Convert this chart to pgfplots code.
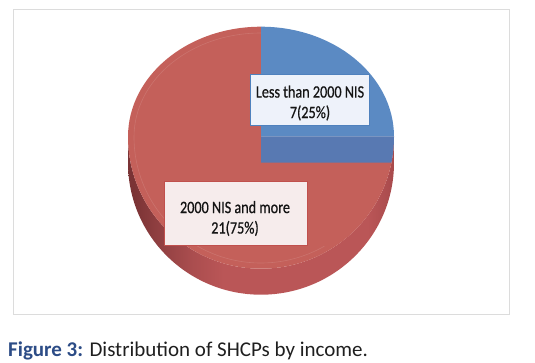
\documentclass[border=0pt]{standalone}
\usepackage{pgfplots}
\pgfplotsset{compat=1.18}
\usepackage{pgfplotstable}
\usepackage{fontspec}
\setmainfont{Carlito}
\newfontfamily\labfont[FakeStretch=0.815,FakeBold=0.6]{Carlito}
\definecolor{redtop}{HTML}{C4605A}
\definecolor{redsideA}{HTML}{7A3335}
\definecolor{redsideB}{HTML}{BA5657}
\definecolor{redsideC}{HTML}{A84A4C}
\definecolor{bluetop}{HTML}{5B8AC3}
\definecolor{blueside}{HTML}{5879B2}
\definecolor{framegray}{HTML}{DCDCDC}
\definecolor{capblue}{HTML}{2C4C86}
\definecolor{bluebox}{HTML}{EEF2FA}
\definecolor{blueedge}{HTML}{4F81BD}
\definecolor{redbox}{HTML}{F6ECEC}
\definecolor{rededge}{HTML}{C0504D}
\pgfdeclarehorizontalshading{redside}{100bp}{color(0bp)=(redsideA); color(26bp)=(redsideA); color(30bp)=(redsideA!70!redsideB); color(37bp)=(redsideA!25!redsideB); color(43bp)=(redsideB); color(70bp)=(redsideB); color(75bp)=(redsideC); color(100bp)=(redsideC)}

\pgfplotstableread{
label value
less 7
more 21
}\piedata
\pgfplotstablegetelem{0}{value}\of\piedata \let\va\pgfplotsretval
\pgfplotstablegetelem{1}{value}\of\piedata \let\vb\pgfplotsretval
\pgfmathsetmacro{\ba}{90-360*\va/(\va+\vb)}
\pgfmathsetmacro{\bx}{261+133*cos(\ba)}
\pgfmathsetmacro{\by}{225.3+110*sin(\ba)}

\begin{document}
\begin{tikzpicture}
\path[use as bounding box] (0,0) rectangle (535pt,362pt);
\begin{axis}[
  at={(0,0)}, anchor=south west,
  width=535pt, height=362pt, scale only axis,
  xmin=0, xmax=535, ymin=0, ymax=362,
  hide axis, clip=false]
% frame
\draw[framegray, line width=1pt] (axis cs:13.3,352.7) rectangle (axis cs:509.3,47.7);
% red side
\shade[shading=redside]
  (axis cs:128,225.3) arc[start angle=180, end angle=360, x radius=133pt, y radius=132pt]
  -- ++(0pt,-26pt)
  arc[start angle=360, end angle=180, x radius=133pt, y radius=132pt] -- cycle;
% red top face
\fill[redtop] (axis cs:261,225.3) -- (axis cs:261,335.3)
  arc[start angle=90, end angle=180, x radius=133pt, y radius=110pt]
  arc[start angle=180, end angle=360, x radius=133pt, y radius=132pt] -- cycle;
% faint inner rim
\draw[redtop!80!white, line width=0.6pt, opacity=0.6]
  (axis cs:261,329) arc[start angle=90, end angle=180, x radius=127pt, y radius=104pt]
  arc[start angle=180, end angle=300, x radius=127pt, y radius=126pt];
% blue side face
\fill[blueside] (axis cs:261,225.3) -- (axis cs:394,225.3)
  arc[start angle=0, end angle=-11.36, x radius=133pt, y radius=132pt]
  -- (axis cs:261,199.3) -- cycle;
% blue top face
\fill[bluetop] (axis cs:261,225.3) -- (axis cs:\bx,\by)
  arc[start angle=\ba, end angle=90, x radius=133pt, y radius=110pt] -- cycle;
% labels
\draw[blueedge, fill=bluebox, line width=0.8pt] (axis cs:250,288) rectangle (axis cs:369,237);
\node[align=center, font=\labfont\fontsize{17.4pt}{20.5pt}\selectfont, text=black!92, inner sep=0pt]
  at (axis cs:310,259) {Less than 2000 NIS\\7(25\%)};
\draw[rededge, fill=redbox, line width=0.8pt] (axis cs:164,181) rectangle (axis cs:307,117);
\node[align=center, font=\labfont\fontsize{17.4pt}{20.5pt}\selectfont, text=black!92, inner sep=0pt]
  at (axis cs:235,143.5) {2000 NIS and more\\21(75\%)};
% caption
\node[anchor=base west, inner sep=0pt, font=\fontsize{21pt}{25pt}\selectfont, text=black!88]
  at (axis cs:8,5.5) {\textcolor{capblue}{\bfseries Figure 3:} Distribution of SHCPs by income.};
\end{axis}
\end{tikzpicture}
\end{document}
